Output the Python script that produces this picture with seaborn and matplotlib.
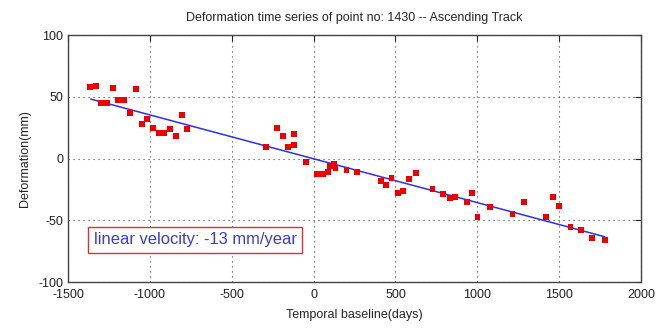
import numpy as np
import pandas as pd
import matplotlib
matplotlib.use("Agg")
import matplotlib.pyplot as plt
import seaborn as sns

# data
days = [-1366, -1331, -1300, -1260, -1227, -1193, -1156, -1087, -1121, -1016,
        -1050, -983, -944, -912, -877, -841, -806, -775,
        -291, -226, -186, -120, -155, -120, -47, 22, 55, 89, 100, 126, 134,
        201, 266, 411, 441, 476, 516, 547, 582, 623, 726,
        791, 832, 864, 938, 968, 1001, 1076, 1215, 1284, 1422, 1463, 1498,
        1569, 1632, 1703, 1778]
deform = [57.7, 58.7, 45.2, 45.2, 56.8, 47.4, 47.4, 56.0, 36.6, 32.2,
          27.9, 24.9, 20.4, 20.4, 23.9, 18.2, 35.5, 23.9,
          9.6, 24.9, 18.5, 19.6, 9.6, 10.9, -3.1, -12.6, -12.6, -10.7, -6.1, -4.7, -7.9,
          -9.3, -10.7, -18.0, -21.5, -16.0, -27.7, -26.3, -16.8, -11.5, -24.7,
          -29.0, -31.7, -30.9, -35.5, -27.7, -47.1, -39.5, -44.9, -35.5, -47.1, -30.9, -38.5,
          -55.7, -57.9, -64.1, -66.0]

# linear fit line endpoints
fit_days = [-1361, 1778]
fit_deform = [48.2, -63.3]

xticks = [-1500, -1000, -500, 0, 500, 1000, 1500, 2000]
yticks = [-100, -50, 0, 50, 100]

df = pd.DataFrame({"days": days, "deform": deform})
fit_df = pd.DataFrame({"days": fit_days, "deform": fit_deform})

sns.set_style("white")
plt.rcParams['font.family'] = ['Liberation Sans', 'DejaVu Sans']
plt.rcParams['axes.unicode_minus'] = False

fig = plt.figure(figsize=(6.56, 3.28), dpi=100)
ax = fig.add_axes([0.1037, 0.140, 0.8735, 0.753])

sns.lineplot(data=fit_df, x="days", y="deform", ax=ax, color="#2f2fe8",
             linewidth=1.1, zorder=2)
sns.scatterplot(data=df, x="days", y="deform", ax=ax, marker="s", s=18,
                color="#ee0000", edgecolor="none", zorder=3)

ax.set_xlim(-1500, 2000)
ax.set_ylim(-100, 100)
ax.set_xticks(xticks)
ax.set_yticks(yticks)
ax.grid(True, linestyle=(0, (1, 3.5)), color="#444444", linewidth=0.8)
ax.tick_params(direction="in", top=True, right=True, length=4, labelsize=9,
               colors="#222222", width=0.8)
ax.tick_params(axis="x", pad=5)
for sp in ax.spines.values():
    sp.set_color("#444444")
    sp.set_linewidth(1.0)

ax.set_xlabel("Temporal baseline(days)", fontsize=9, labelpad=6)
ax.set_ylabel("Deformation(mm)", fontsize=9, labelpad=5)
ax.set_title("Deformation time series of point no: 1430 -- Ascending Track",
             fontsize=9, pad=10)

ax.text(0.045, 0.172, "linear velocity: -13 mm/year", transform=ax.transAxes,
        fontsize=11.9, color="#3a3ae0", va="center", ha="left",
        bbox=dict(boxstyle="square,pad=0.33", facecolor="white",
                  edgecolor="#e03030", linewidth=1.0))

fig.savefig("out.png", dpi=100)
